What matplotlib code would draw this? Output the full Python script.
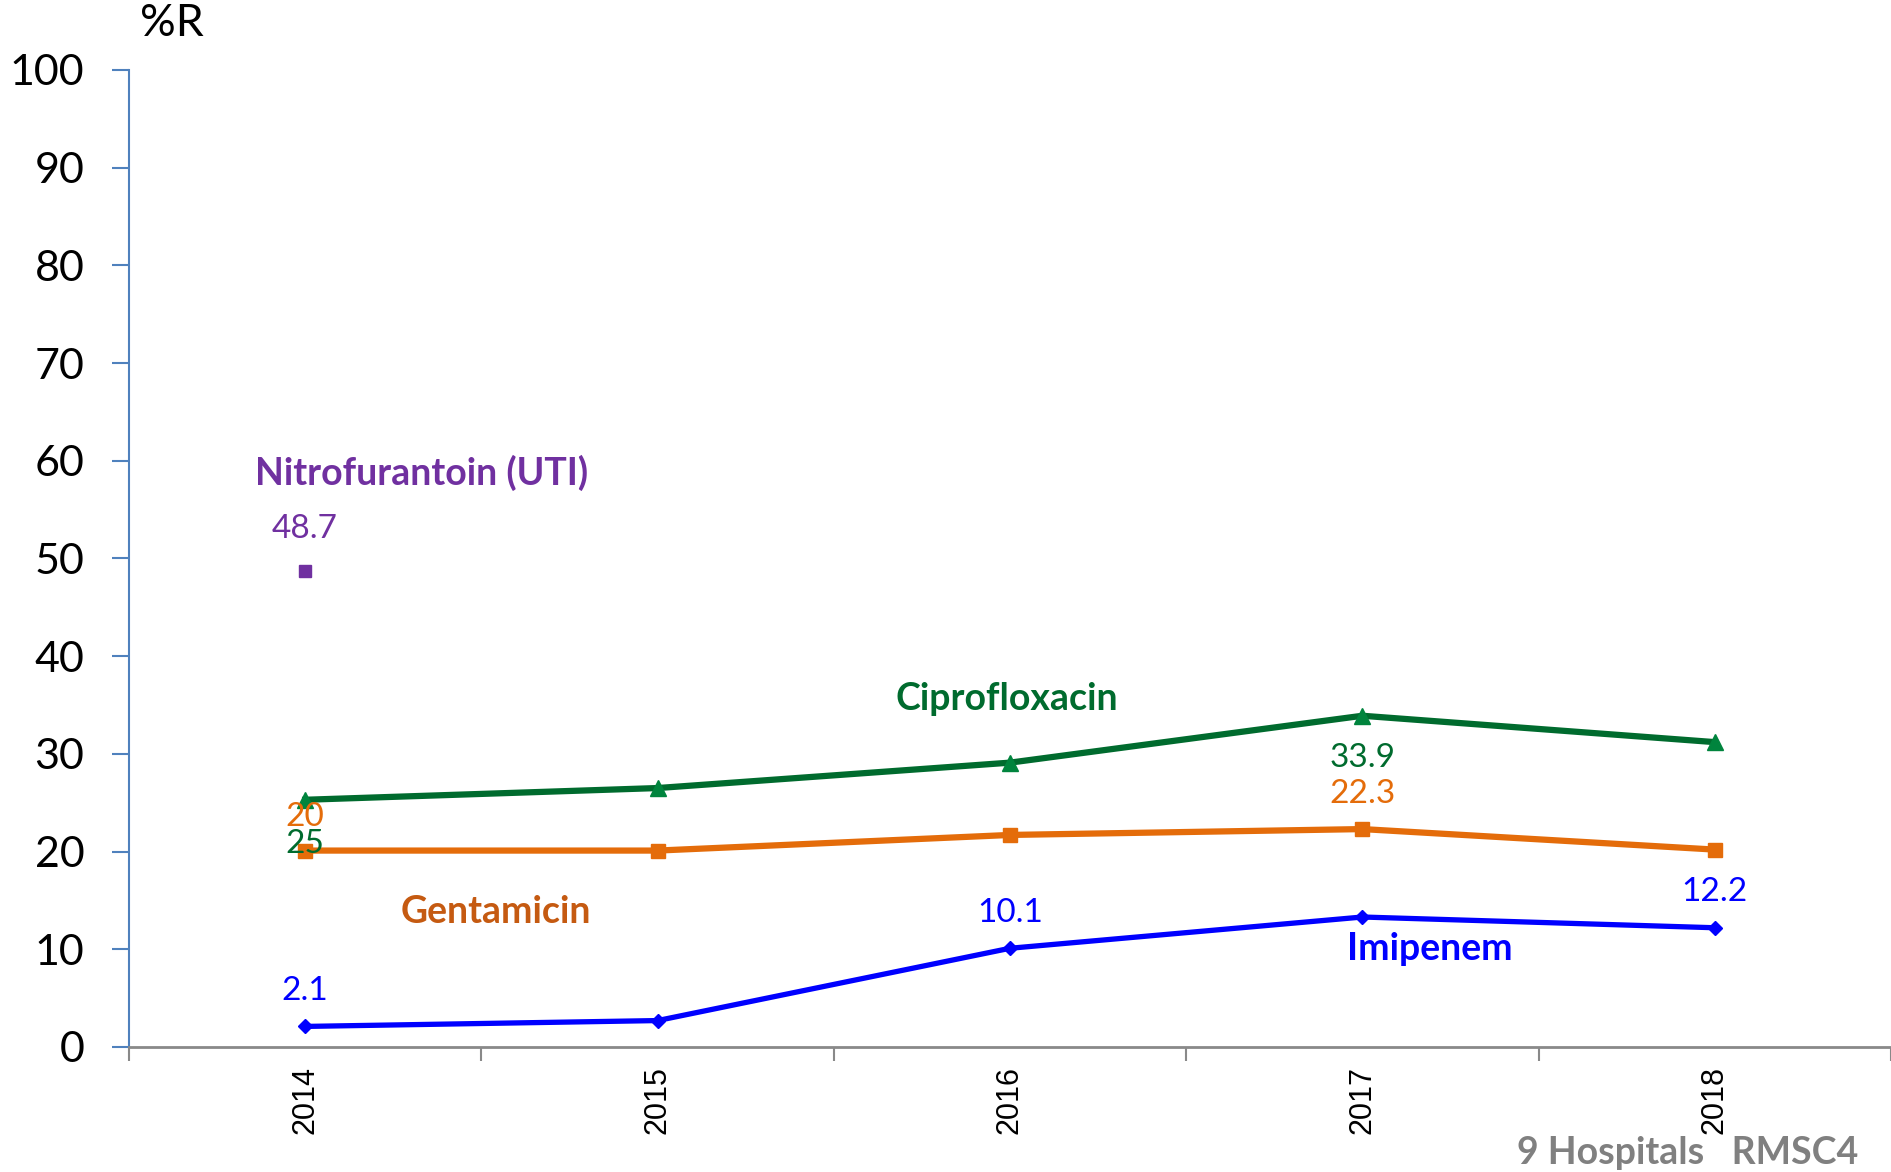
import matplotlib
matplotlib.use("Agg")
import matplotlib.pyplot as plt

plt.rcParams['font.family'] = ['Lato', 'DejaVu Sans']

years = ['2014', '2015', '2016', '2017', '2018']
cipro = [25.3, 26.5, 29.1, 33.9, 31.2]
genta = [20.1, 20.1, 21.7, 22.3, 20.2]
imip = [2.1, 2.7, 10.1, 13.3, 12.2]
nitro = [48.7]

c_green = '#006B2E'
c_green_m = '#00843D'
c_orange = '#E46C0A'
c_blue = '#0000FF'
c_purple = '#7030A0'

fig = plt.figure(figsize=(18.91, 11.72), dpi=100)
ax = fig.add_axes([0.0682, 0.1067, 0.9318, 0.8336])

x = list(range(len(years)))
ax.plot(x, cipro, color=c_green, lw=4.5, marker='^', ms=12, mfc=c_green_m, mec=c_green_m)
ax.plot(x, genta, color=c_orange, lw=4.5, marker='s', ms=10, mfc=c_orange, mec=c_orange)
ax.plot(x, imip, color=c_blue, lw=3.8, marker='D', ms=7, mfc=c_blue, mec=c_blue)
ax.plot([0], nitro, color=c_purple, lw=0, marker='s', ms=9)

ax.set_xlim(-0.5, 4.5)
ax.set_ylim(0, 100)
ax.set_yticks(range(0, 101, 10))
ax.set_xticks(x)
ax.set_xticklabels(years, rotation=90, fontsize=22, family=['Liberation Sans', 'DejaVu Sans'])
ax.set_xticks([i - 0.5 for i in range(6)], minor=True)
ax.tick_params(axis='x', which='major', length=0, pad=14)
ax.tick_params(axis='x', which='minor', length=10, color='#898989', width=1.5)
ax.tick_params(axis='y', length=12, color='#4F81BD', width=1.5, labelsize=31, pad=20)

for s in ['top', 'right']:
    ax.spines[s].set_visible(False)
ax.spines['left'].set_color('#4F81BD')
ax.spines['left'].set_linewidth(1.5)
ax.spines['bottom'].set_color('#898989')
ax.spines['bottom'].set_linewidth(2)

# data labels
fs = 24
ax.text(0, 51.5, '48.7', color=c_purple, fontsize=fs, ha='center', va='bottom')
ax.text(0, 22.0, '20', color=c_orange, fontsize=fs, ha='center', va='bottom')
ax.text(0, 19.2, '25', color=c_green, fontsize=fs, ha='center', va='bottom')
ax.text(3, 28.0, '33.9', color=c_green, fontsize=fs, ha='center', va='bottom')
ax.text(3, 24.4, '22.3', color=c_orange, fontsize=fs, ha='center', va='bottom')
ax.text(0, 4.2, '2.1', color=c_blue, fontsize=fs, ha='center', va='bottom')
ax.text(2, 12.2, '10.1', color=c_blue, fontsize=fs, ha='center', va='bottom')
ax.text(4, 14.3, '12.2', color=c_blue, fontsize=fs, ha='center', va='bottom')

# series names
nfs = 27
ax.text(0.33, 58.8, 'Nitrofurantoin (UTI)', color=c_purple, fontsize=nfs, fontweight='bold', ha='center', va='center')
ax.text(1.99, 35.6, 'Ciprofloxacin', color=c_green, fontsize=nfs, fontweight='bold', ha='center', va='center')
ax.text(0.54, 13.8, 'Gentamicin', color='#C55A11', fontsize=nfs, fontweight='bold', ha='center', va='center')
ax.text(3.19, 10.0, 'Imipenem', color=c_blue, fontsize=nfs, fontweight='bold', ha='center', va='center')

fig.text(172 / 1891, 1 - 24 / 1172, '%R', fontsize=32, ha='center', va='center')
fig.text(1688 / 1891, 1 - 1153 / 1172, '9 Hospitals   RMSC4', color='#808080', fontsize=27,
         fontweight='bold', ha='center', va='center')

fig.savefig('out.png', dpi=100)
